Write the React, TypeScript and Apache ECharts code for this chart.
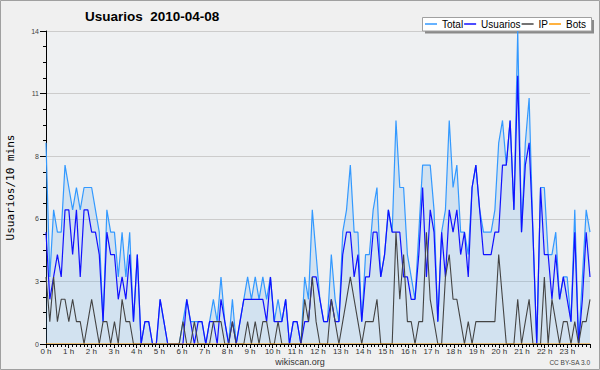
import React, { useEffect, useRef } from "react";
import * as echarts from "echarts";

const TITLE = "Usuarios  2010-04-08";
const Y_NAME = "Usuarios/10 mins";
const SERIES_NAMES = ["Total", "Usuarios", "IP", "Bots"];
const HOUR_LABELS = [
  "0 h", "1 h", "2 h", "3 h", "4 h", "5 h", "6 h", "7 h", "8 h", "9 h", "10 h", "11 h",
  "12 h", "13 h", "14 h", "15 h", "16 h", "17 h", "18 h", "19 h", "20 h", "21 h", "22 h", "23 h",
];
const Y_LABELS = ["0", "3", "6", "8", "11", "14"];

// 144 ten-minute slots, 00:00 .. 23:50
const TOTAL = [
  9, 3, 6, 5, 5, 8, 7, 6, 7, 6, 7, 7,
  7, 6, 5, 1, 6, 5, 5, 3, 5, 3, 5, 1,
  4, 0, 1, 1, 0, 0, 2, 1, 0, 0, 0, 0,
  1, 2, 1, 1, 1, 1, 0, 1, 2, 1, 3, 1,
  0, 2, 0, 1, 2, 3, 2, 3, 2, 3, 2, 3,
  1, 2, 1, 2, 0, 1, 1, 0, 3, 2, 6, 4,
  2, 1, 1, 4, 2, 1, 5, 6, 8, 5, 5, 1,
  4, 4, 6, 7, 3, 4, 6, 5, 10, 7, 7, 4,
  3, 2, 5, 8, 8, 8, 6, 1, 5, 6, 10, 7,
  8, 5, 5, 4, 7, 8, 6, 5, 5, 5, 6, 9,
  10, 8, 10, 6, 14, 5, 9, 11, 5, 0, 7, 7,
  4, 4, 5, 2, 3, 3, 1, 6, 0, 3, 6, 5,
];
const USUARIOS = [
  5, 2, 3, 4, 3, 6, 6, 4, 6, 3, 6, 6,
  5, 5, 4, 1, 5, 4, 4, 2, 3, 2, 4, 1,
  4, 0, 1, 1, 0, 0, 2, 1, 0, 0, 0, 0,
  0, 2, 1, 0, 1, 1, 0, 1, 1, 0, 2, 1,
  0, 1, 0, 1, 2, 2, 2, 2, 2, 2, 1, 3,
  1, 1, 1, 2, 0, 1, 1, 0, 1, 1, 3, 3,
  2, 1, 1, 2, 1, 1, 4, 5, 5, 3, 4, 1,
  3, 3, 5, 5, 3, 4, 6, 5, 5, 5, 3, 3,
  2, 2, 4, 7, 3, 6, 5, 1, 5, 3, 6, 5,
  6, 4, 5, 3, 7, 8, 6, 4, 4, 4, 5, 5,
  8, 8, 10, 6, 12, 5, 8, 9, 5, 0, 7, 4,
  4, 2, 4, 2, 3, 2, 1, 5, 0, 2, 5, 3,
];
const IP = [
  3, 1, 3, 1, 2, 2, 1, 2, 1, 1, 0, 1,
  2, 1, 0, 1, 1, 0, 1, 0, 2, 1, 1, 0,
  0, 0, 0, 0, 0, 0, 0, 0, 0, 0, 0, 0,
  1, 0, 0, 1, 0, 0, 0, 0, 1, 1, 1, 0,
  0, 1, 0, 0, 0, 1, 0, 1, 0, 1, 1, 0,
  0, 1, 0, 0, 0, 0, 0, 0, 2, 1, 3, 1,
  0, 0, 0, 2, 1, 0, 1, 2, 3, 2, 1, 0,
  1, 1, 1, 2, 0, 0, 0, 0, 5, 2, 4, 1,
  1, 0, 1, 1, 5, 2, 1, 0, 0, 3, 4, 2,
  2, 1, 0, 1, 0, 1, 1, 1, 1, 1, 1, 4,
  2, 0, 0, 0, 2, 0, 1, 2, 0, 0, 0, 3,
  0, 2, 1, 0, 1, 1, 0, 1, 0, 1, 1, 2,
];
const BOTS = [
  0, 0, 0, 0, 0, 0, 0, 0, 0, 0, 0, 0,
  0, 0, 0, 0, 0, 0, 0, 0, 0, 0, 0, 0,
  0, 0, 0, 0, 0, 0, 0, 0, 0, 0, 0, 0,
  0, 0, 0, 0, 0, 0, 0, 0, 0, 0, 0, 0,
  0, 0, 0, 0, 0, 0, 0, 0, 0, 0, 0, 0,
  0, 0, 0, 0, 0, 0, 0, 0, 0, 0, 0, 0,
  0, 0, 0, 0, 0, 0, 0, 0, 0, 0, 0, 0,
  0, 0, 0, 0, 0, 0, 0, 0, 0, 0, 0, 0,
  0, 0, 0, 0, 0, 0, 0, 0, 0, 0, 0, 0,
  0, 0, 0, 0, 0, 0, 0, 0, 0, 0, 0, 0,
  0, 0, 0, 0, 0, 0, 0, 0, 0, 0, 0, 0,
  0, 0, 0, 0, 0, 0, 0, 0, 0, 0, 0, 0,
];

const TIMES: string[] = [];
for (let h = 0; h < 24; h++) {
  for (let m = 0; m < 60; m += 10) {
    TIMES.push(String(h).padStart(2, "0") + ":" + String(m).padStart(2, "0"));
  }
}

const SANS = "Liberation Sans, Arial, sans-serif";

export default function App() {
  const ref = useRef<HTMLDivElement>(null);
  useEffect(() => {
    if (!ref.current) return;
    const chart = echarts.init(ref.current, null, { renderer: "svg" });
    const line = (name: string, data: number[], color: string, width: number, extra: any = {}) => ({
      name,
      type: "line",
      data,
      xAxisIndex: 0,
      yAxisIndex: 0,
      symbol: "none",
      showSymbol: false,
      lineStyle: { color, width },
      itemStyle: { color },
      emphasis: { disabled: true },
      ...extra,
    });
    chart.setOption({
      animation: false,
      backgroundColor: "#f0f0f0",
      textStyle: { fontFamily: SANS },
      title: {
        text: TITLE,
        left: 85,
        top: 9,
        padding: 0,
        textStyle: { fontSize: 13.5, fontWeight: "bold", color: "#000", fontFamily: SANS },
      },
      legend: {
        data: SERIES_NAMES,
        left: 425,
        top: 18,
        padding: 0,
        itemGap: 1,
        itemWidth: 12,
        itemHeight: 1.5,
        icon: "rect",
        selectedMode: false,
        textStyle: { fontSize: 10, color: "#000", lineHeight: 12, fontFamily: SANS },
      },
      grid: {
        left: 46,
        right: 10,
        top: 31,
        bottom: 26,
        show: true,
        backgroundColor: "#eef0f2",
        borderWidth: 0,
      },
      xAxis: [
        {
          type: "category",
          data: TIMES,
          boundaryGap: false,
          show: false,
        },
        {
          type: "value",
          min: 0,
          max: 24,
          interval: 1,
          position: "bottom",
          z: 10,
          axisLine: { show: true, onZero: false, lineStyle: { color: "#000", width: 1 } },
          axisTick: { show: true, length: 4, lineStyle: { color: "#000" } },
          minorTick: { show: true, splitNumber: 6, length: 3, lineStyle: { color: "#000" } },
          axisLabel: {
            formatter: (v: number) => HOUR_LABELS[Math.round(v)] ?? "",
            fontSize: 8,
            color: "#333",
            margin: 3,
            fontFamily: SANS,
          },
          splitLine: { show: false },
        },
      ],
      yAxis: {
        type: "value",
        min: 0,
        max: 14,
        interval: 2.8,
        axisLine: { show: true, lineStyle: { color: "#000", width: 1 } },
        axisTick: { show: true, length: 6, lineStyle: { color: "#000" } },
        minorTick: { show: true, splitNumber: 4, length: 3, lineStyle: { color: "#000" } },
        axisLabel: {
          formatter: (v: number, i: number) => Y_LABELS[i] ?? String(Math.round(v)),
          fontSize: 7,
          color: "#444",
          margin: 7,
          fontFamily: SANS,
        },
        splitLine: { show: true, lineStyle: { color: "#cccccc", width: 1 } },
      },
      graphic: [
        {
          type: "rect",
          z: 1,
          silent: true,
          shape: { x: 425, y: 20, width: 169, height: 13.5 },
          style: { fill: "#8a8a8a" },
        },
        {
          type: "rect",
          z: 2,
          silent: true,
          shape: { x: 422.5, y: 17.5, width: 169, height: 13.5 },
          style: { fill: "#ffffff", stroke: "#a0a0a0", lineWidth: 1 },
        },
        {
          type: "text",
          x: 10,
          y: 187.5,
          rotation: Math.PI / 2,
          silent: true,
          style: {
            text: Y_NAME,
            fill: "#000",
            fontSize: 11,
            fontFamily: "DejaVu Sans Mono",
            align: "center",
            verticalAlign: "middle",
            textAlign: "center",
            textVerticalAlign: "middle",
          },
        },
        {
          type: "text",
          x: 300,
          y: 362,
          silent: true,
          style: {
            text: "wikiscan.org",
            fill: "#333",
            fontSize: 9,
            fontFamily: SANS,
            align: "center",
            verticalAlign: "middle",
            textAlign: "center",
            textVerticalAlign: "middle",
          },
        },
        {
          type: "text",
          x: 590,
          y: 362.5,
          silent: true,
          style: {
            text: "CC BY-SA 3.0",
            fill: "#444",
            fontSize: 6.5,
            fontFamily: SANS,
            align: "right",
            verticalAlign: "middle",
            textAlign: "right",
            textVerticalAlign: "middle",
          },
        },
        {
          type: "rect",
          z: 100,
          silent: true,
          shape: { x: 0.5, y: 0.5, width: 599, height: 369 },
          style: { fill: "none", stroke: "#a0a0a0", lineWidth: 1 },
        },
      ],
      series: [
        line("Total", TOTAL, "#3399ff", 1.2, { areaStyle: { color: "rgba(78,164,234,0.25)" } }),
        line("Usuarios", USUARIOS, "#1111ff", 1.2),
        line("IP", IP, "#444444", 1.1),
        line("Bots", BOTS, "#ff9900", 1.1),
      ],
    });
    return () => chart.dispose();
  }, []);
  return (
    <div
      ref={ref}
      style={{ position: "fixed", left: 0, top: 0, width: 600, height: 370 }}
    />
  );
}
